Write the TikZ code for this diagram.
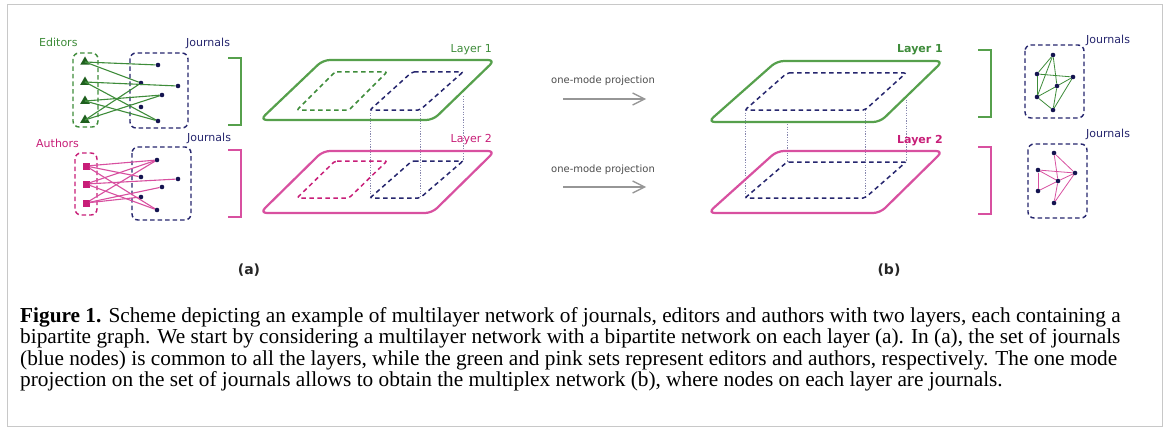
\documentclass[tikz,border=0pt]{standalone}
\usepackage{fontspec}
\setmainfont{Liberation Serif}
\setsansfont{DejaVu Sans}
\usetikzlibrary{shapes.geometric,arrows.meta}

\definecolor{edgreen}{RGB}{62,140,58}
\definecolor{lgreen}{RGB}{86,160,76}
\definecolor{dgreen}{RGB}{30,95,30}
\definecolor{apink}{RGB}{216,80,160}
\definecolor{dpink}{RGB}{200,30,120}
\definecolor{navy}{RGB}{38,38,110}
\definecolor{dotnavy}{RGB}{20,20,80}
\definecolor{framegray}{RGB}{200,200,200}
\definecolor{projgray}{RGB}{150,150,150}

\begin{document}
\begin{tikzpicture}[x=1pt,y=-1pt,
  lbl/.style={font=\sffamily\fontsize{11}{13}\selectfont, inner sep=0pt, anchor=base west},
  blbl/.style={font=\sffamily\bfseries\fontsize{11}{13}\selectfont, inner sep=0pt, anchor=base east},
  jdot/.style={circle, fill=dotnavy, inner sep=0pt, minimum size=4.6pt},
  tri/.style={regular polygon, regular polygon sides=3, fill=dgreen, inner sep=0pt, minimum size=11pt},
  sq/.style={rectangle, fill=dpink, inner sep=0pt, minimum size=7pt},
  dbox/.style={line width=1.4pt, dash pattern=on 4.5pt off 3pt, rounded corners=6pt},
  gedge/.style={edgreen, line width=1.1pt},
  pedge/.style={apink, line width=1.1pt},
  plane/.style={line width=2.2pt, rounded corners=7pt},
  inner/.style={line width=1.5pt, dash pattern=on 4.5pt off 3.5pt, rounded corners=2pt},
  vdot/.style={navy!55, line width=0.7pt, dash pattern=on 1.2pt off 1.4pt},
  bracket/.style={line width=1.4pt},
  proj/.style={projgray, line width=1.3pt, -{Straight Barb[length=12pt,width=12pt,line width=1.3pt]}},
  projtxt/.style={font=\sffamily\fontsize{10}{12}\selectfont, text=black!70, inner sep=0pt},
  panel/.style={font=\sffamily\bfseries\fontsize{14}{16}\selectfont, text=black!85, inner sep=0pt},
  capline/.style={font=\fontsize{21.3}{21.5}\selectfont, inner sep=0pt, anchor=base west}
]
\useasboundingbox (0,0) rectangle (1170,428);
\fill[white] (0,0) rectangle (1170,428);
\draw[framegray, line width=1.2pt] (7.5,4.5) rectangle (1162.5,426.5);

% ---------- (a) bipartite graphs ----------
\node[lbl, text=edgreen] (editors) at (39,47) {Editors};
\node[lbl, text=navy] (journalsA1) at (186,47) {Journals};
\draw[dbox, draw=edgreen] (73,53) rectangle (98,127);
\draw[dbox, draw=navy] (130,53) rectangle (188,128);

\node[tri] (t1) at (85,62) {};
\node[tri] (t2) at (85,82) {};
\node[tri] (t3) at (85,101) {};
\node[tri] (t4) at (85,120) {};
\node[jdot] (ja1) at (158,65) {};
\node[jdot] (ja2) at (141,83) {};
\node[jdot] (ja3) at (178,86) {};
\node[jdot] (ja4) at (162,95) {};
\node[jdot] (ja5) at (141,107) {};
\node[jdot] (ja6) at (158,121) {};
\foreach \a/\b in {t1/ja1, t1/ja2, t2/ja3, t2/ja6, t3/ja4, t3/ja6, t4/ja2, t4/ja4}
  \draw[gedge] (\a.center) -- (\b);

\node[lbl, text=dpink] (authors) at (36,147) {Authors};
\node[lbl, text=navy] (journalsA2) at (187,141) {Journals};
\draw[dbox, draw=dpink] (75,153) rectangle (97,215);
\draw[dbox, draw=navy] (132,147) rectangle (191,220);

\node[sq] (s1) at (86,166) {};
\node[sq] (s2) at (86,184) {};
\node[sq] (s3) at (86,203) {};
\node[jdot] (jb1) at (157,160) {};
\node[jdot] (jb2) at (141,177) {};
\node[jdot] (jb3) at (178,179) {};
\node[jdot] (jb4) at (162,187) {};
\node[jdot] (jb5) at (141,197) {};
\node[jdot] (jb6) at (157,210) {};
\foreach \a/\b in {s1/jb1, s1/jb2, s1/jb6, s2/jb1, s2/jb3, s2/jb6, s3/jb1, s3/jb4, s3/jb5}
  \draw[pedge] (\a) -- (\b);

% brackets of (a)
\draw[bracket, lgreen] (228,58) -- (241,58) -- (241,125) -- (228,125);
\draw[bracket, apink] (228,150) -- (241,150) -- (241,217) -- (228,217);

% ---------- (a) layers ----------
\draw[vdot] (370,110) -- (370,198);
\draw[vdot] (420,110) -- (420,198);
\draw[vdot] (463,96) -- (463,161);

\draw[plane, lgreen] (400,60) -- (495,60) -- (433,120) -- (260,120) -- (323,60) -- cycle;
\draw[inner, edgreen] (335,72) -- (387,72) -- (349,110) -- (297,110) -- cycle;
\draw[inner, navy] (412,72) -- (463,72) -- (420,110) -- (370,110) -- cycle;
\node[lbl, text=edgreen, anchor=base east] (layerA1) at (492,53) {Layer 1};

\draw[plane, apink] (400,151) -- (495,151) -- (432,213) -- (260,213) -- (323,151) -- cycle;
\draw[inner, dpink] (335,161) -- (387,161) -- (349,198) -- (297,198) -- cycle;
\draw[inner, navy] (412,161) -- (463,161) -- (420,198) -- (370,198) -- cycle;
\node[lbl, text=dpink, anchor=base east] (layerA2) at (492,142) {Layer 2};

% ---------- projection arrows ----------
\coordinate (p1s) at (563,99);
\coordinate (p1e) at (646,99);
\coordinate (p2s) at (563,187);
\coordinate (p2e) at (646,187);
\draw[proj] (p1s) -- (p1e);
\draw[proj] (p2s) -- (p2e);
\node[projtxt] (proj1) at (603,81) {one-mode projection};
\node[projtxt] (proj2) at (603,170) {one-mode projection};

% ---------- (b) multiplex layers ----------
\draw[vdot] (745,110) -- (745,198);
\draw[vdot] (865,110) -- (865,198);
\draw[vdot] (787,124) -- (787,162);
\draw[vdot] (906,97) -- (906,162);

\draw[plane, lgreen] (860,61) -- (943,61) -- (880,122) -- (708,122) -- (777,61) -- cycle;
\draw[inner, navy] (787,73) -- (906,73) -- (865,110) -- (745,110) -- cycle;
\node[blbl, text=edgreen] (layerB1) at (943,53) {Layer 1};

\draw[plane, apink] (860,151) -- (943,151) -- (880,213) -- (708,213) -- (777,151) -- cycle;
\draw[inner, navy] (787,162) -- (906,162) -- (865,198) -- (745,198) -- cycle;
\node[blbl, text=dpink] (layerB2) at (943,143) {Layer 2};

% brackets of (b)
\draw[bracket, lgreen] (978,50) -- (991,50) -- (991,117) -- (978,117);
\draw[bracket, apink] (978,147) -- (991,147) -- (991,214) -- (978,214);

% ---------- (b) projected journal networks ----------
\node[lbl, text=navy] (journalsB1) at (1086,44) {Journals};
\draw[dbox, draw=navy] (1025,45) rectangle (1084,118);
\node[jdot] (ka) at (1053,55) {};
\node[jdot] (kb) at (1037,74) {};
\node[jdot] (kc) at (1073,77) {};
\node[jdot] (kd) at (1057,86) {};
\node[jdot] (ke) at (1037,97) {};
\node[jdot] (kf) at (1053,110) {};
\foreach \a/\b in {ka/kb, ka/ke, ka/kd, kb/kc, kb/ke, ke/kd, kd/kc, kc/kf, ke/kf, kd/kf}
  \draw[gedge, line width=0.8pt] (\a) -- (\b);

\node[lbl, text=navy] (journalsB2) at (1086,137) {Journals};
\draw[dbox, draw=navy] (1028,144) rectangle (1087,218);
\node[jdot] (pa) at (1054,153) {};
\node[jdot] (pb) at (1038,170) {};
\node[jdot] (pc) at (1075,173) {};
\node[jdot] (pd) at (1058,181) {};
\node[jdot] (pe) at (1038,191) {};
\node[jdot] (pf) at (1054,203) {};
\foreach \a/\b in {pa/pc, pa/pd, pd/pf, pb/pc, pb/pd, pb/pe, pe/pd, pd/pc, pf/pc}
  \draw[pedge, line width=0.8pt] (\a) -- (\b);

% ---------- panel labels ----------
\node[panel] (labA) at (249,270) {(a)};
\node[panel] (labB) at (889,270) {(b)};

% ---------- caption ----------
\node[capline] (cap1) at (20,322) {\textbf{Figure 1.} Scheme depicting an example of multilayer network of journals, editors and authors with two layers, each containing a};
\node[capline] (cap2) at (20,343.5) {bipartite graph. We start by considering a multilayer network with a bipartite network on each layer (a). In (a), the set of journals};
\node[capline] (cap3) at (20,365) {(blue nodes) is common to all the layers, while the green and pink sets represent editors and authors, respectively. The one mode};
\node[capline] (cap4) at (20,386.5) {projection on the set of journals allows to obtain the multiplex network (b), where nodes on each layer are journals.};
\end{tikzpicture}
\end{document}
